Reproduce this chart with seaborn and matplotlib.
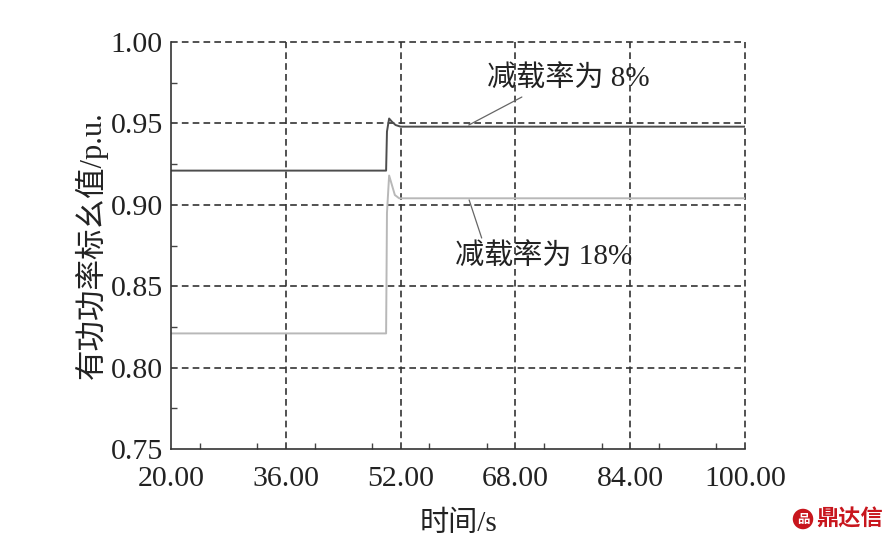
import numpy as np
import pandas as pd
import matplotlib
matplotlib.use("Agg")
import matplotlib.pyplot as plt
from matplotlib.ticker import MultipleLocator
import seaborn as sns

# data
t_8 = [20.0, 49.98, 50.1, 50.4, 50.8, 51.3, 52.0, 100.0]
p_8 = [0.921, 0.921, 0.945, 0.953, 0.951, 0.949, 0.948, 0.948]
t_18 = [20.0, 49.98, 50.1, 50.4, 50.8, 51.2, 51.8, 52.5, 100.0]
p_18 = [0.821, 0.821, 0.895, 0.918, 0.912, 0.906, 0.904, 0.904, 0.904]
x_ticks = [20, 36, 52, 68, 84, 100]
y_ticks = [0.75, 0.80, 0.85, 0.90, 0.95, 1.00]

df8 = pd.DataFrame({"t": t_8, "p": p_8})
df18 = pd.DataFrame({"t": t_18, "p": p_18})

sns.set_style("white")
plt.rcParams["font.family"] = ["Liberation Serif", "Noto Sans CJK SC"]
plt.rcParams["font.size"] = 21

fig, ax = plt.subplots(figsize=(8.91, 5.42), dpi=100)
fig.subplots_adjust(left=171/891, right=745/891, top=1-42/542, bottom=1-449/542)

sns.lineplot(data=df8, x="t", y="p", ax=ax, color="#4d4d4d", linewidth=1.4, estimator=None, sort=False)
sns.lineplot(data=df18, x="t", y="p", ax=ax, color="#b8b8b8", linewidth=1.4, estimator=None, sort=False)

ax.set_xlim(20, 100)
ax.set_ylim(0.75, 1.00)
ax.set_xticks(x_ticks)
ax.set_yticks(y_ticks)
ax.set_xticklabels([f"{v:.2f}" for v in x_ticks])
ax.set_yticklabels([f"{v:.2f}" for v in y_ticks])
ax.xaxis.set_minor_locator(MultipleLocator(8))
ax.yaxis.set_minor_locator(MultipleLocator(0.025))
ax.tick_params(which="major", length=0, labelsize=21.5, colors="#222222")
ax.tick_params(axis="x", which="major", pad=12)
ax.tick_params(axis="y", which="major", pad=6)
ax.tick_params(which="minor", direction="in", length=4, width=1, color="#444444",
               bottom=True, left=True)

for v in x_ticks[1:]:
    ax.axvline(v, color="#333333", linestyle=(0, (4, 2.5)), linewidth=1.2, clip_on=False, zorder=1)
for v in y_ticks[1:]:
    ax.axhline(v, color="#333333", linestyle=(0, (4, 2.5)), linewidth=1.2, clip_on=False, zorder=1)

for s in ["top", "right"]:
    ax.spines[s].set_visible(False)
for s in ["left", "bottom"]:
    ax.spines[s].set_color("#333333")
    ax.spines[s].set_linewidth(1.2)

ax.set_xlabel("时间/s", fontsize=21, color="#222222", labelpad=14)
ax.set_ylabel("有功功率标幺值/p.u.", fontsize=22, color="#222222", labelpad=2)

# labels and leader lines
ax.text(64.0, 0.9773, "减载率为 8%", fontsize=21, color="#222222", va="center", ha="left")
ax.annotate("", xy=(61.5, 0.949), xytext=(68.9, 0.9662),
            arrowprops=dict(arrowstyle="-", color="#666666", lw=0.9, shrinkA=0, shrinkB=0))
ax.text(59.6, 0.868, "减载率为 18%", fontsize=21, color="#222222", va="center", ha="left")
ax.annotate("", xy=(61.55, 0.903), xytext=(63.3, 0.8796),
            arrowprops=dict(arrowstyle="-", color="#666666", lw=0.9, shrinkA=0, shrinkB=0))

# watermark
fig.text(803/891, 1-519/542, "品", color="white", fontsize=9, ha="center", va="center",
         family=["Noto Sans CJK SC"], fontweight="bold",
         bbox=dict(boxstyle="circle,pad=0.3", fc="#c8161d", ec="none"))
fig.text(816/891, 1-519/542, "鼎达信", color="#c8161d", fontsize=16, ha="left", va="center",
         family=["Noto Sans CJK SC"], fontweight="bold")

fig.savefig("out.png", dpi=100)
